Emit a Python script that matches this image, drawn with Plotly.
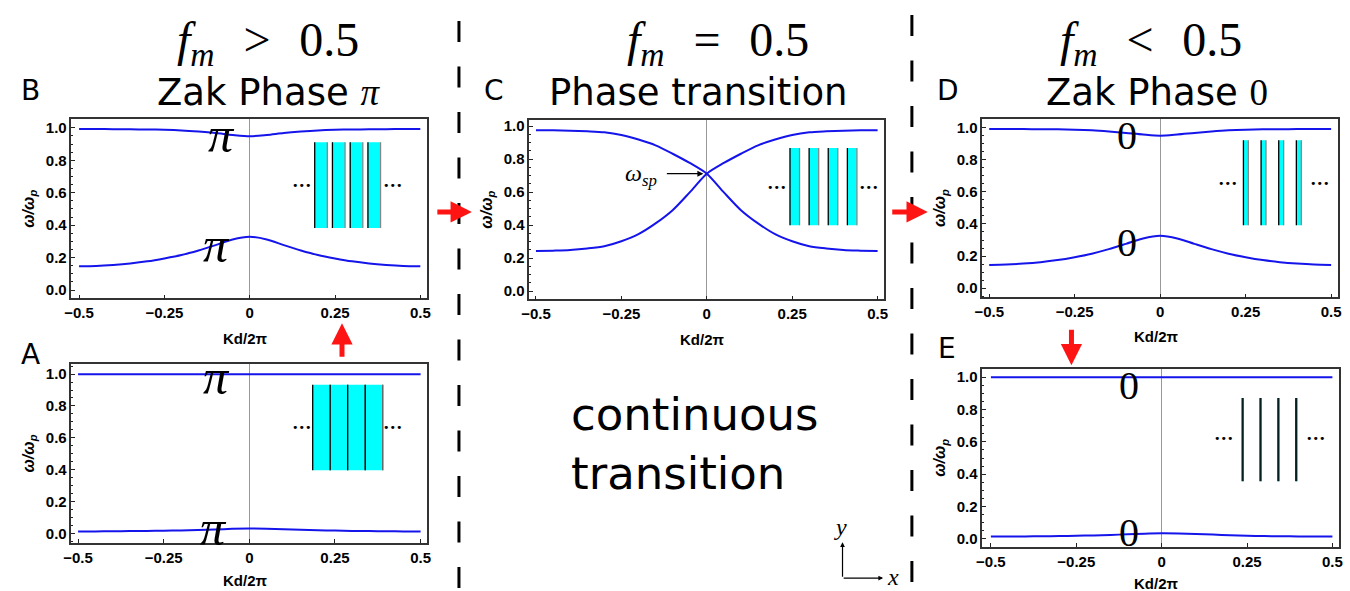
import plotly.graph_objects as go

# ---------------- data ----------------
K = [-0.5, -0.45, -0.4, -0.35, -0.3, -0.25, -0.2, -0.15, -0.1, -0.05, 0.0,
     0.05, 0.1, 0.15, 0.2, 0.25, 0.3, 0.35, 0.4, 0.45, 0.5]
X_TICKS = [-0.5, -0.25, 0, 0.25, 0.5]
X_TICKTEXT = ["\u22120.5", "\u22120.25", "0", "0.25", "0.5"]
Y_TICKS = [0.0, 0.2, 0.4, 0.6, 0.8, 1.0]
Y_TICKTEXT = ["0.0", "0.2", "0.4", "0.6", "0.8", "1.0"]

# Panel B (f_m > 0.5)
B_UPPER = [0.993, 0.993, 0.992, 0.991, 0.990, 0.988, 0.984, 0.977, 0.968, 0.956, 0.948,
           0.956, 0.968, 0.977, 0.984, 0.988, 0.990, 0.991, 0.992, 0.993, 0.993]
B_LOWER = [0.147, 0.149, 0.155, 0.164, 0.177, 0.195, 0.216, 0.244, 0.277, 0.312, 0.328,
           0.312, 0.277, 0.244, 0.216, 0.195, 0.177, 0.164, 0.155, 0.149, 0.147]
# Panel C (f_m = 0.5): two curves crossing at omega_sp
C_FALLING = [0.975, 0.974, 0.972, 0.968, 0.962, 0.946, 0.918, 0.883, 0.832, 0.776, 0.711,
             0.598, 0.490, 0.410, 0.345, 0.302, 0.272, 0.258, 0.249, 0.245, 0.242]
C_RISING = [0.242, 0.245, 0.249, 0.258, 0.272, 0.302, 0.345, 0.410, 0.490, 0.598, 0.711,
            0.776, 0.832, 0.883, 0.918, 0.946, 0.962, 0.968, 0.972, 0.974, 0.975]
# Panel D (f_m < 0.5)
D_UPPER = [0.992, 0.992, 0.991, 0.990, 0.989, 0.987, 0.983, 0.976, 0.967, 0.957, 0.950,
           0.957, 0.967, 0.976, 0.983, 0.987, 0.989, 0.990, 0.991, 0.992, 0.992]
D_LOWER = [0.145, 0.147, 0.153, 0.162, 0.175, 0.193, 0.215, 0.243, 0.276, 0.310, 0.326,
           0.310, 0.276, 0.243, 0.215, 0.193, 0.175, 0.162, 0.153, 0.147, 0.145]
# Panel A
A_UPPER = [0.999] * 21
A_LOWER = [0.012, 0.012, 0.013, 0.014, 0.015, 0.016, 0.018, 0.021, 0.024, 0.028, 0.030,
           0.029, 0.026, 0.022, 0.019, 0.017, 0.015, 0.014, 0.013, 0.012, 0.012]
# Panel E
E_UPPER = [0.999] * 21
E_LOWER = [0.014, 0.014, 0.015, 0.016, 0.017, 0.019, 0.021, 0.024, 0.028, 0.032, 0.034,
           0.033, 0.030, 0.026, 0.022, 0.019, 0.017, 0.016, 0.015, 0.014, 0.014]

# ---------------- layout helpers ----------------
W, H = 1350, 591
def px(x):
    return x / W
def py(y):
    return 1 - y / H

BLUE = "rgb(20,20,235)"
RED = "rgb(255,20,20)"
SANS = "DejaVu Sans"
BOLD = "Liberation Sans"
SERIF = "Liberation Serif"

# name: (axis suffix, frame px left,right,top,bottom, x range, y range, x-title y px)
PANELS = {
    "B": ("", (64, 423, 117, 297), (-0.5224, 0.5203), (-0.052, 1.052), 337),
    "C": ("2", (526, 884, 118, 298), (-0.5194, 0.5191), (-0.051, 1.034), 338),
    "D": ("3", (983, 1342, 117, 296), (-0.5203, 0.5203), (-0.058, 1.051), 335),
    "A": ("4", (64, 423, 363, 543), (-0.5194, 0.5194), (-0.0625, 1.0625), 580),
    "E": ("5", (983, 1343, 368, 547), (-0.5253, 0.5195), (-0.052, 1.050), 583),
}
SERIES = {
    "B": [B_UPPER, B_LOWER],
    "C": [C_FALLING, C_RISING],
    "D": [D_UPPER, D_LOWER],
    "A": [A_UPPER, A_LOWER],
    "E": [E_UPPER, E_LOWER],
}

fig = go.Figure()
layout = dict(width=W, height=H, margin=dict(l=0, r=0, t=0, b=0),
              paper_bgcolor="white", plot_bgcolor="white", showlegend=False)

TICKFONT = dict(family=BOLD, size=15, color="black", weight="bold")
for name, (sfx, (l, r, t, b), xr, yr, _) in PANELS.items():
    for ys in SERIES[name]:
        fig.add_trace(go.Scatter(x=K, y=ys, mode="lines",
                                 line=dict(color=BLUE, width=2, shape="spline", smoothing=0.8),
                                 xaxis="x" + sfx, yaxis="y" + sfx, hoverinfo="skip"))
    layout["xaxis" + sfx] = dict(
        domain=[px(l), px(r)], range=list(xr), anchor="y" + sfx,
        tickmode="array", tickvals=X_TICKS, ticktext=["<b>%s</b>" % s for s in X_TICKTEXT],
        ticks="inside", ticklen=4, tickwidth=1, tickcolor="#222",
        showline=True, mirror=True, linecolor="#333", linewidth=1.5,
        showgrid=False, zeroline=True, zerolinecolor="#999", zerolinewidth=1,
        tickfont=TICKFONT)
    layout["yaxis" + sfx] = dict(
        domain=[py(b), py(t)], range=list(yr), anchor="x" + sfx,
        tickmode="array", tickvals=Y_TICKS, ticktext=["<b>%s</b>" % s for s in Y_TICKTEXT],
        ticks="inside", ticklen=4, tickwidth=1, tickcolor="#222",
        minor=dict(ticks="inside", ticklen=2, tickwidth=1, tickcolor="#222", dtick=0.05, tick0=0),
        showline=True, mirror=True, linecolor="#333", linewidth=1.5,
        showgrid=False, zeroline=False,
        tickfont=TICKFONT)

# ---------------- insets (schematic layered structures) ----------------
INSETS = {
    "B": (0.1905, 0.052, 0.037, 0.383, 0.911),
    "C": (0.2435, 0.056, 0.028, 0.399, 0.867),
    "D": (0.2435, 0.0516, 0.0145, 0.392, 0.921),
    "A": (0.185, 0.0511, 0.0511, 0.396, 0.933),
    "E": (0.237, 0.0523, 0.004, 0.356, 0.872),
}
DOTS = {  # y, left centre, right centre
    "B": (0.647, 0.153, 0.419),
    "C": (0.627, 0.204, 0.472),
    "D": (0.649, 0.198, 0.465),
    "A": (0.6625, 0.153, 0.419),
    "E": (0.618, 0.182, 0.451),
}
shapes = []
annotations = []
for name, (x0, per, cw, y0, y1) in INSETS.items():
    sfx = PANELS[name][0]
    xref, yref = "x" + sfx, "y" + sfx
    for i in range(4):
        xs = x0 + i * per
        shapes.append(dict(type="rect", xref=xref, yref=yref, x0=xs, x1=xs + cw, y0=y0, y1=y1,
                           fillcolor="cyan", line=dict(width=0), layer="above"))
        if name == "E":
            shapes.append(dict(type="line", xref=xref, yref=yref, x0=xs, x1=xs, y0=y0, y1=y1,
                               line=dict(color="#052020", width=2.2), layer="above"))
        else:
            shapes.append(dict(type="line", xref=xref, yref=yref, x0=xs, x1=xs, y0=y0, y1=y1,
                               line=dict(color="black", width=1.3), layer="above"))
            shapes.append(dict(type="line", xref=xref, yref=yref, x0=xs + cw, x1=xs + cw, y0=y0, y1=y1,
                               line=dict(color="#888", width=1.3), layer="above"))
    if name == "A":
        xs = x0 + 4 * per
        shapes.append(dict(type="line", xref=xref, yref=yref, x0=xs, x1=xs, y0=y0, y1=y1,
                           line=dict(color="#666", width=1.3), layer="above"))
    dy, dl, dr = DOTS[name]
    for dx in (dl, dr):
        annotations.append(dict(x=dx, y=dy, xref=xref, yref=yref, text="\u2022\u2022\u2022",
                                xanchor="center", yanchor="middle",
                                showarrow=False, font=dict(family=SANS, size=11, color="black")))

# Zak phase labels on bands
BAND_LABELS = {
    "B": [("\u03c0", -0.083, 0.954), ("\u03c0", -0.098, 0.279)],
    "A": [("\u03c0", -0.096, 0.979), ("\u03c0", -0.106, 0.031)],
    "D": [("0", -0.098, 0.950), ("0", -0.098, 0.284)],
    "E": [("0", -0.097, 0.949), ("0", -0.097, 0.041)],
}
for name, labs in BAND_LABELS.items():
    sfx = PANELS[name][0]
    for txt, kx, vy in labs:
        annotations.append(dict(x=kx, y=vy, xref="x" + sfx, yref="y" + sfx,
                                text="<i>%s</i>" % txt if txt == "\u03c0" else txt,
                                xanchor="center", yanchor="middle", showarrow=False,
                                font=dict(family=SERIF, size=40 if txt == "0" else 50, color="black")))

# omega_sp marker in C
annotations.append(dict(x=-0.194, y=0.704, xref="x2", yref="y2",
                        text="<i>\u03c9<sub>sp</sub></i>", showarrow=False,
                        xanchor="center", yanchor="middle",
                        font=dict(family=SERIF, size=24, color="black")))
annotations.append(dict(x=-0.01, y=0.711, xref="x2", yref="y2", ax=-38, ay=0, text="",
                        showarrow=True, arrowhead=2, arrowsize=1, arrowwidth=1.2, arrowcolor="black"))

# axis titles
for name, (sfx, (l, r, t, b), xr, yr, ty) in PANELS.items():
    annotations.append(dict(x=px((l + r) / 2 - 4), y=py(ty), xref="paper", yref="paper",
                            text="<b>Kd/2\u03c0</b>", showarrow=False,
                            xanchor="center", yanchor="middle",
                            font=dict(family=BOLD, size=15, color="black")))
    annotations.append(dict(x=px(l - 42), y=py((t + b) / 2), xref="paper", yref="paper",
                            text="<b><i>\u03c9/\u03c9<sub>p</sub></i></b>", textangle=-90, showarrow=False,
                            xanchor="center", yanchor="middle",
                            font=dict(family=BOLD, size=16, color="black")))

# panel letters
for letter, (x, y) in {"B": (23, 88), "C": (490, 88), "D": (948, 88), "A": (23, 353), "E": (947, 347)}.items():
    annotations.append(dict(x=px(x), y=py(y), xref="paper", yref="paper", text=letter,
                            xanchor="center", yanchor="middle",
                            showarrow=False, font=dict(family=SANS, size=28, color="black")))

# headings
SP = "\u2009\u2009\u2009"
heads = [
    (262, 40, "<i>f</i><sub><i>m</i></sub>" + SP + "&gt;" + SP + "0.5"),
    (716, 40, "<i>f</i><sub><i>m</i></sub>" + SP + "=" + SP + "0.5"),
    (1153, 40, "<i>f</i><sub><i>m</i></sub>" + SP + "&lt;" + SP + "0.5"),
]
for x, y, t in heads:
    annotations.append(dict(x=px(x), y=py(y), xref="paper", yref="paper", text=t,
                            xanchor="center", yanchor="middle",
                            showarrow=False, font=dict(family=SERIF, size=48, color="black")))
subs = [
    (263, 90, 'Zak Phase <span style="font-family:Liberation Serif"><i>\u03c0</i></span>'),
    (697, 90, "Phase transition"),
    (1159, 90, 'Zak Phase <span style="font-family:Liberation Serif">0</span>'),
]
for x, y, t in subs:
    annotations.append(dict(x=px(x), y=py(y), xref="paper", yref="paper", text=t,
                            xanchor="center", yanchor="middle",
                            showarrow=False, font=dict(family=SANS, size=37, color="black")))

annotations.append(dict(x=px(566), y=py(443), xref="paper", yref="paper", xanchor="left", yanchor="middle",
                        text="continuous<br>transition", align="left", showarrow=False,
                        font=dict(family=SANS, size=45, color="black")))

# coordinate icon
annotations.append(dict(x=px(842), y=py(542), xref="paper", yref="paper", ax=0, ay=36, text="",
                        showarrow=True, arrowhead=2, arrowsize=0.8, arrowwidth=1.2, arrowcolor="black"))
annotations.append(dict(x=px(883), y=py(578), xref="paper", yref="paper", ax=-41, ay=0, text="",
                        showarrow=True, arrowhead=2, arrowsize=0.8, arrowwidth=1.2, arrowcolor="black"))
annotations.append(dict(x=px(840), y=py(527), xref="paper", yref="paper", text="<i>y</i>",
                        xanchor="center", yanchor="middle",
                        showarrow=False, font=dict(family=SERIF, size=24, color="black")))
annotations.append(dict(x=px(893), y=py(577), xref="paper", yref="paper", text="<i>x</i>",
                        xanchor="center", yanchor="middle",
                        showarrow=False, font=dict(family=SERIF, size=24, color="black")))

# red arrows
for hx, hy, ax, ay in [(468, 210, -36, 0), (928, 210, -37, 0), (337, 322, 0, 35), (1073, 364, 0, -37)]:
    annotations.append(dict(x=px(hx), y=py(hy), xref="paper", yref="paper", ax=ax, ay=ay, text="",
                            showarrow=True, arrowhead=2, arrowsize=0.85, arrowwidth=5, arrowcolor=RED))

# dashed separators
for x, ytop in [(455, 18), (912, 12)]:
    shapes.append(dict(type="line", xref="paper", yref="paper", x0=px(x), x1=px(x), y0=py(ytop), y1=0,
                       line=dict(color="black", width=3, dash="21px,24.5px")))

layout["shapes"] = shapes
layout["annotations"] = annotations
fig.update_layout(**layout)
fig.write_html("out.html", config={"displayModeBar": False},
               post_script="document.body.style.margin='0';")
